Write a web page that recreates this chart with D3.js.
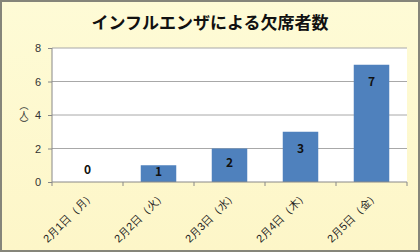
<!DOCTYPE html>
<html>
<head>
<meta charset="UTF-8">
<style>
  body { margin: 0; }
  svg { display: block; font-family: "Noto Sans CJK JP", "Noto Sans", sans-serif; }
</style>
</head>
<body>
<svg></svg>
<script src="https://d3js.org/d3.v7.min.js"></script>
<script>
// chart data
var days = ["2月1日（月）", "2月2日（火）", "2月3日（水）", "2月4日（木）", "2月5日（金）"];
var absent = [0, 1, 2, 3, 7];
var yTicks = [0, 2, 4, 6, 8];

var config = {
  width: 420,
  height: 252,
  margin: { top: 48, right: 13, bottom: 70, left: 52 }
};

var svg = d3.select("svg")
  .attr("width", config.width)
  .attr("height", config.height);

// pale yellow background
var grad = svg.append("defs").append("linearGradient")
  .attr("id", "bg").attr("x1", 0).attr("y1", 0).attr("x2", 0).attr("y2", 1);
grad.append("stop").attr("offset", "0%").attr("stop-color", "#fefbd6");
grad.append("stop").attr("offset", "100%").attr("stop-color", "#fdf6c8");

svg.append("rect")
  .attr("x", 1).attr("y", 1)
  .attr("width", config.width - 2).attr("height", config.height - 2)
  .attr("fill", "url(#bg)")
  .attr("stroke", "#85857a")
  .attr("stroke-width", 2);

var m = config.margin,
    w = config.width - m.left - m.right,
    h = config.height - m.top - m.bottom;

var g = svg.append("g").attr("transform", "translate(" + m.left + "," + m.top + ")");

var x = d3.scaleBand().domain(days).range([0, w]).paddingInner(0.5).paddingOuter(0.25);
var y = d3.scaleLinear().domain([0, 8]).range([h, 0]);

// plot area
g.append("rect").attr("width", w).attr("height", h).attr("fill", "#fff");

// gridlines
g.selectAll(".grid")
  .data(yTicks.slice(1))
  .enter().append("line")
    .attr("x1", 0).attr("x2", w)
    .attr("y1", function(d) { return y(d); })
    .attr("y2", function(d) { return y(d); })
    .attr("stroke", "#a8a8a8")
    .attr("stroke-width", 1);

// bars
g.selectAll(".bar")
  .data(absent)
  .enter().append("rect")
    .attr("x", function(d, i) { return x(days[i]); })
    .attr("y", function(d) { return y(d); })
    .attr("width", x.bandwidth())
    .attr("height", function(d) { return h - y(d); })
    .attr("fill", "#4f81bd");

// value labels
g.selectAll(".val")
  .data(absent)
  .enter().append("text")
    .attr("x", function(d, i) { return x(days[i]) + x.bandwidth() / 2; })
    .attr("y", function(d) {
      if (d == 0) return h - 12;
      return Math.min(y(d) + 17, (y(d) + h) / 2 - 2);
    })
    .attr("dy", "0.35em")
    .attr("text-anchor", "middle")
    .attr("font-size", 12)
    .attr("font-weight", "bold")
    .attr("fill", "#111")
    .text(function(d) { return d; });

// y axis
var yAxis = g.append("g")
  .call(d3.axisLeft(y).tickValues(yTicks).tickSize(4).tickPadding(7));
yAxis.select(".domain").attr("stroke", "#888").attr("d", "M0,0V" + h);
yAxis.selectAll(".tick line").attr("stroke", "#888");
yAxis.selectAll("text").attr("font-size", 11).attr("fill", "#333")
  .attr("font-family", "Liberation Sans, Arial, sans-serif");

// x axis
var xAxis = g.append("g")
  .attr("transform", "translate(0," + h + ")")
  .call(d3.axisBottom(x).tickSize(0).tickPadding(0));
xAxis.select(".domain").attr("stroke", "#888").attr("d", "M0,0H" + w);
// tick marks at band edges
var step = x.step();
xAxis.selectAll(".edge")
  .data(d3.range(days.length + 1))
  .enter().append("line")
    .attr("x1", function(d) { return d * step; })
    .attr("x2", function(d) { return d * step; })
    .attr("y1", 0).attr("y2", 4)
    .attr("stroke", "#888");
xAxis.selectAll(".tick text")
  .attr("y", 0)
  .attr("dy", "0.35em")
  .attr("font-size", 11)
  .attr("fill", "#222")
  .attr("text-anchor", "end")
  .attr("transform", "translate(5,11) rotate(-45)");

// y axis title, vertical writing
svg.append("text")
  .attr("x", 24)
  .attr("y", 101)
  .attr("font-size", 9)
  .attr("fill", "#333")
  .style("writing-mode", "vertical-rl")
  .style("text-orientation", "mixed")
  .text("（人）");

// title
svg.append("text")
  .attr("x", 210)
  .attr("y", 29)
  .attr("text-anchor", "middle")
  .attr("font-size", 17)
  .attr("font-weight", "bold")
  .attr("fill", "#111")
  .text("インフルエンザによる欠席者数");
</script>
</body>
</html>
